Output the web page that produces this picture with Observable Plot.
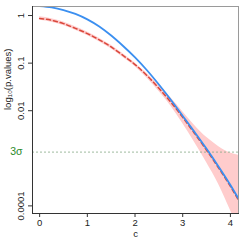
<!DOCTYPE html>
<html><head><meta charset="utf-8">
<script src="https://cdn.jsdelivr.net/npm/d3@7"></script>
<script src="https://cdn.jsdelivr.net/npm/@observablehq/plot@0.6"></script>
<style>body{margin:0;background:#fff} svg{display:block}</style>
</head><body><div id="chart"></div>
<script>
// c values
const cValues = [0, 0.25, 0.5, 0.75, 1.0, 1.25, 1.5, 1.75, 2.0, 2.25, 2.5, 2.75, 3.0, 3.25, 3.5, 3.75, 4.0, 4.2];
// log10(p) of blue solid curve
const blueLog = [0.20, 0.17, 0.115, 0.035, -0.08, -0.23, -0.42, -0.64, -0.88, -1.15, -1.45, -1.77, -2.11, -2.45, -2.80, -3.17, -3.56, -3.90];
// log10(p) of red dashed curve
const redLog = [-0.06, -0.10, -0.17, -0.27, -0.38, -0.51, -0.66, -0.84, -1.03, -1.26, -1.53, -1.82, -2.14, -2.48, -2.83, -3.20, -3.59, -3.93];
// pink band around red curve
const bandHi = [-0.025, -0.065, -0.135, -0.235, -0.345, -0.475, -0.625, -0.805, -0.995, -1.22, -1.47, -1.73, -2.02, -2.31, -2.56, -2.75, -2.89, -2.94];
const bandLo = [-0.10, -0.14, -0.21, -0.31, -0.42, -0.55, -0.70, -0.88, -1.07, -1.31, -1.59, -1.90, -2.27, -2.67, -3.09, -3.54, -4.09, -4.55];
// axis ticks
const xTickValues = [0, 1, 2, 3, 4];
const yTickValues = [0, -1, -2, -4];
const yTickLabels = ["1", "0.1", "0.01", "0.0001"];
const sigma3Log = [Math.log10(0.00135)];
const sigma3Label = "3σ";
const yTitle = "log₁₀(p.values)";
const xTitle = "c";

const rows = cValues.map((c, i) => ({c, blue: blueLog[i], red: redLog[i], hi: bandHi[i], lo: bandLo[i]}));
const yTicks = yTickValues.map((v, i) => ({v, label: yTickLabels[i]}));

const plot = Plot.plot({
  width: 245, height: 245,
  marginLeft: 32, marginTop: 6, marginRight: 7, marginBottom: 32,
  style: {fontFamily: "'Liberation Sans', Arial, sans-serif", fontSize: "9.5px", background: "white", color: "#222"},
  x: {domain: [-0.15, 4.17]},
  y: {domain: [-4.16, 0.19]},
  marks: [
    Plot.areaY(rows, {x: "c", y1: "lo", y2: "hi", fill: "#ffcccc", clip: true, curve: "monotone-x"}),
    Plot.ruleY(sigma3Log, {stroke: "#86a886", strokeDasharray: "2,2", strokeWidth: 0.8}),
    Plot.lineY(rows, {x: "c", y: "red", stroke: "#d9473b", strokeWidth: 1.5, strokeDasharray: "4,3", clip: true, curve: "monotone-x"}),
    Plot.lineY(rows, {x: "c", y: "blue", stroke: "#3b8ff0", strokeWidth: 1.8, clip: true, curve: "monotone-x"}),
    Plot.frame({stroke: "#9a9a9a"}),
    Plot.frame({anchor: "left", stroke: "#333"}),
    Plot.frame({anchor: "bottom", stroke: "#333"}),
    Plot.axisX({ticks: xTickValues, tickSize: 4, tickPadding: 2, tickFormat: d => String(d), label: null, stroke: "#333"}),
    Plot.axisY({ticks: yTickValues, tickSize: 4, tickFormat: () => "", label: null, stroke: "#333"}),
    Plot.text(yTicks, {y: "v", text: "label", frameAnchor: "left", dx: -12, rotate: -90, textAnchor: "middle", fill: "#222"}),
    Plot.text(sigma3Log, {y: d => d, text: () => sigma3Label, frameAnchor: "left", dx: -10, textAnchor: "end", fill: "#2a8a2a", fontSize: 10.5}),
    Plot.text([yTitle], {frameAnchor: "left", dx: -25, rotate: -90, fill: "#222"}),
    Plot.text([xTitle], {frameAnchor: "bottom", dy: 23, fill: "#222"})
  ]
});
document.getElementById("chart").appendChild(plot);
</script>
</body></html>
